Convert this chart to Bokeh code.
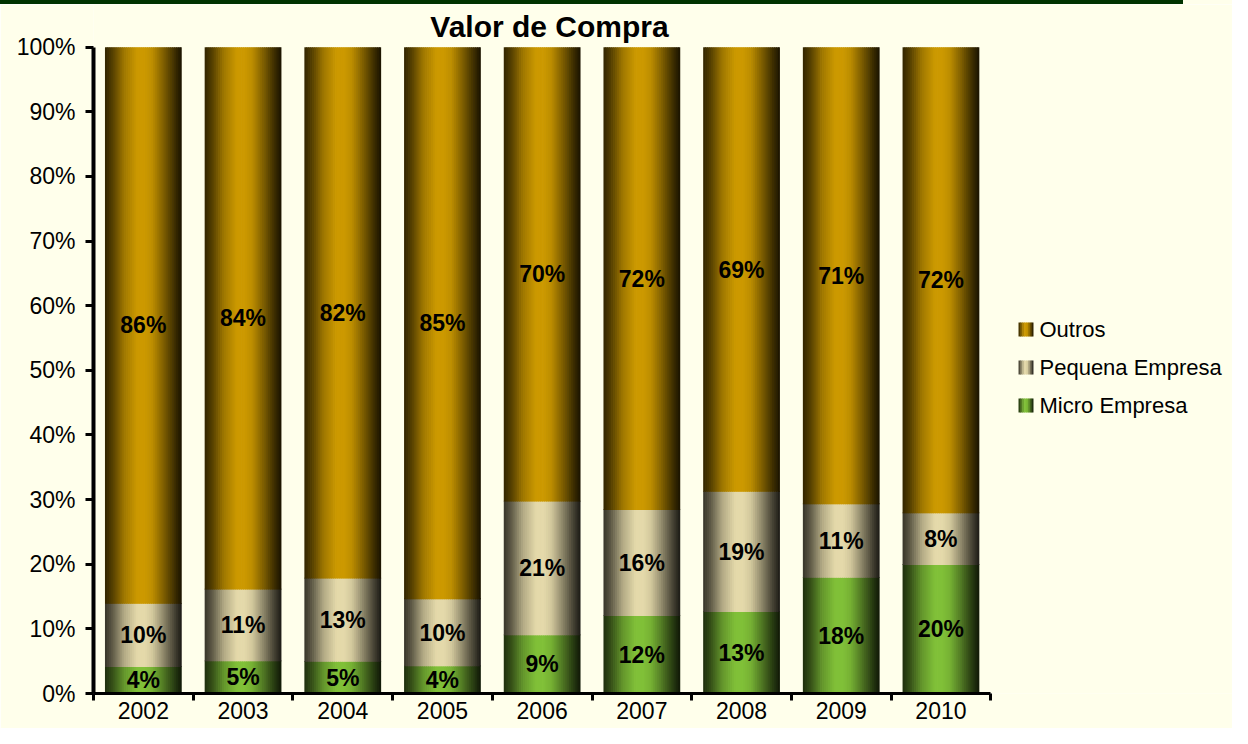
import numpy as np
from bokeh.plotting import figure
from bokeh.models import Range1d, FixedTicker, Div
from bokeh.layouts import column
from bokeh.core.properties import value
from bokeh.embed import file_html
from bokeh.resources import INLINE

# ---------------- data ----------------
years = ["2002", "2003", "2004", "2005", "2006", "2007", "2008", "2009", "2010"]
micro = [4.1, 5.0, 4.9, 4.2, 9.0, 12.0, 12.6, 17.9, 19.9]
pequena = [9.8, 11.1, 12.9, 10.4, 20.7, 16.4, 18.6, 11.4, 8.0]
outros = [86.1, 83.9, 82.2, 85.4, 70.3, 71.6, 68.8, 70.7, 72.1]
series_names = ["Micro Empresa", "Pequena Empresa", "Outros"]
y_ticks = [0, 10, 20, 30, 40, 50, 60, 70, 80, 90, 100]
y_tick_labels = ["0%", "10%", "20%", "30%", "40%", "50%", "60%", "70%", "80%", "90%", "100%"]
title_text = "Valor de Compra"

# ---------------- style / layout ----------------
BG = "#FFFFEB"
GREEN_BAR = "#003300"
BASE = {
    "Micro Empresa": (128, 192, 56),
    "Pequena Empresa": (228, 217, 170),
    "Outros": (204, 153, 0),
}
PROF_T = [0.0, 0.1, 0.25, 0.42, 0.52, 0.62, 0.75, 0.9, 1.0]
PROF_M = [0.24, 0.42, 0.78, 1.0, 1.0, 0.92, 0.65, 0.32, 0.12]
FONT = "Liberation Sans"

TOTAL_W, TOTAL_H = 1232, 728
RULE_H = 4
W, H = TOTAL_W, TOTAL_H - RULE_H
FRAME_LEFT = 93
FRAME_BOTTOM = 689
TOP_100 = 42.7
PX_PER_X = 99.7
PX_PER_Y = (FRAME_BOTTOM - TOP_100) / 100.0
BAR_W = 0.77
NSTRIP = 40


def cx(px):
    return (px - FRAME_LEFT) / PX_PER_X - 0.5


def cy(py):
    return (FRAME_BOTTOM - py) / PX_PER_Y


def shade(rgb, m):
    r, g, b = (int(round(max(0, min(255, c * m)))) for c in rgb)
    return "#%02x%02x%02x" % (r, g, b)


def strip_colors(rgb, n):
    ts = (np.arange(n) + 0.5) / n
    ms = np.interp(ts, PROF_T, PROF_M)
    return [shade(rgb, m) for m in ms]


p = figure(
    width=W, height=H,
    x_range=Range1d(-0.5, cx(W)), y_range=Range1d(0, cy(0)),
    output_backend="svg", toolbar_location=None,
    min_border_left=FRAME_LEFT, min_border_right=0, min_border_top=0,
    min_border_bottom=H - FRAME_BOTTOM,
    background_fill_color=BG, border_fill_color=BG, outline_line_color=None,
    margin=(0, 0, 0, 0),
)
p.xgrid.grid_line_color = None
p.ygrid.grid_line_color = None

# ---------------- stacked gradient bars ----------------
values = {"Micro Empresa": micro, "Pequena Empresa": pequena, "Outros": outros}
bottoms = np.zeros(len(years))
label_x, label_y, label_t = [], [], []
for si, name in enumerate(series_names):
    vals = np.array(values[name], dtype=float)
    tops = bottoms + vals
    cols = strip_colors(BASE[name], NSTRIP)
    sw = BAR_W / NSTRIP
    L, R, B, T, C = [], [], [], [], []
    for i in range(len(years)):
        bar_left = i - BAR_W / 2
        bar_right = i + BAR_W / 2
        for k in range(NSTRIP):
            l = bar_left + k * sw
            r = min(bar_left + (k + 1.4) * sw, bar_right)
            L.append(l); R.append(r)
            B.append(bottoms[i])
            T.append(tops[i] + (0.12 if si < len(series_names) - 1 else 0))
            C.append(cols[k])
    p.quad(left=L, right=R, bottom=B, top=T, fill_color=C, line_color=None)
    for i in range(len(years)):
        label_x.append(i)
        label_y.append(bottoms[i] + vals[i] / 2)
        label_t.append("%d%%" % int(vals[i] + 0.5))
    bottoms = tops

p.text(x=label_x, y=label_y, text=label_t, text_font=value(FONT),
       text_font_size="23px", text_font_style="bold", text_color="black",
       text_align="center", text_baseline="middle")

# ---------------- title ----------------
p.text(x=[cx(549)], y=[cy(21.5)], text=[title_text], text_font=value(FONT),
       text_font_size="30px", text_font_style="bold", text_color="black",
       text_align="center", text_baseline="middle")

# ---------------- legend (custom, gradient swatches) ----------------
leg_order = ["Outros", "Pequena Empresa", "Micro Empresa"]
leg_centers_px = [325, 363, 401]
sw_left, sw_right = cx(1018), cx(1033)
half_h = 7 / PX_PER_Y
nleg = 8
for name, cpy in zip(leg_order, leg_centers_px):
    yc = cy(cpy)
    cols = strip_colors(BASE[name], nleg)
    w = (sw_right - sw_left) / nleg
    p.quad(left=[sw_left + k * w for k in range(nleg)],
           right=[min(sw_left + (k + 1.3) * w, sw_right) for k in range(nleg)],
           bottom=[yc - half_h] * nleg, top=[yc + half_h] * nleg,
           fill_color=cols, line_color=None)
p.text(x=[cx(1039)] * 3, y=[cy(c) for c in leg_centers_px], text=leg_order,
       text_font=value(FONT), text_font_size="22px", text_color="black",
       text_align="left", text_baseline="middle")

# ---------------- axes ----------------
xa = p.xaxis[0]
xa.ticker = FixedTicker(ticks=list(range(len(years))),
                        minor_ticks=[i - 0.5 for i in range(len(years) + 1)])
xa.major_label_overrides = {i: y for i, y in enumerate(years)}
xa.bounds = (-0.5, len(years) - 0.5)
xa.axis_line_width = 3
xa.axis_line_color = "black"
xa.major_tick_line_color = None
xa.minor_tick_line_color = "black"
xa.minor_tick_line_width = 3
xa.minor_tick_out = 7
xa.minor_tick_in = 0
xa.major_tick_out = 7
xa.major_label_standoff = 1
xa.major_label_text_font = FONT
xa.major_label_text_font_size = "23px"
xa.major_label_text_color = "black"

ya = p.yaxis[0]
ya.ticker = FixedTicker(ticks=y_ticks, minor_ticks=[])
ya.major_label_overrides = {t: l for t, l in zip(y_ticks, y_tick_labels)}
ya.bounds = (0, 100)
ya.axis_line_width = 4
ya.axis_line_color = "black"
ya.major_tick_line_width = 3
ya.major_tick_line_color = "black"
ya.major_tick_out = 8
ya.major_tick_in = 0
ya.minor_tick_line_color = None
ya.major_label_standoff = 10
ya.major_label_text_font = FONT
ya.major_label_text_font_size = "23px"
ya.major_label_text_color = "black"

# ---------------- top green rule (thin strip above the figure) ----------------
rule = Div(text="", width=TOTAL_W, height=RULE_H, margin=(0, 0, 0, 0),
           styles={"background": "linear-gradient(to right, %s 1183px, %s 1183px)" % (GREEN_BAR, BG)})

layout = column(rule, p, spacing=0, margin=(0, 0, 0, 0))

open("out.html", "w").write(file_html(layout, INLINE))
